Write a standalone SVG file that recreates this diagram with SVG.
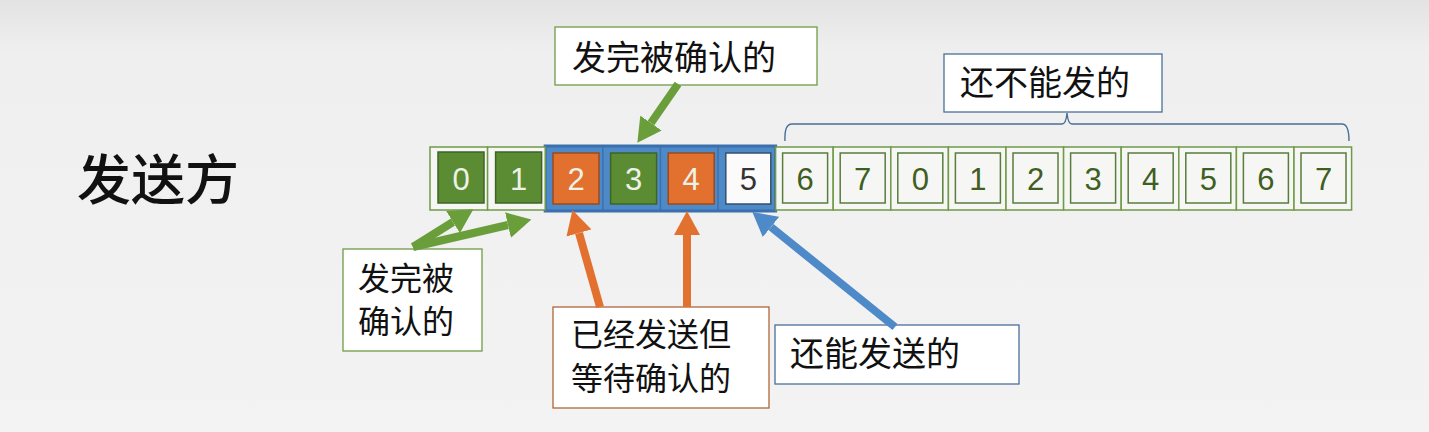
<svg xmlns="http://www.w3.org/2000/svg" width="1429" height="432" viewBox="0 0 1429 432">
<defs>
<linearGradient id="bg" x1="0" y1="0" x2="0" y2="1">
<stop offset="0" stop-color="#e3e3e3"/>
<stop offset="0.12" stop-color="#efefef"/>
<stop offset="1" stop-color="#f3f3f3"/>
</linearGradient>
<marker id="hg" markerUnits="userSpaceOnUse" markerWidth="24" markerHeight="26" refX="0" refY="13" orient="auto"><path d="M0,0 L24,13 L0,26 z" fill="#6a9e3a"/></marker>
<marker id="ho" markerUnits="userSpaceOnUse" markerWidth="24" markerHeight="26" refX="0" refY="13" orient="auto"><path d="M0,0 L24,13 L0,26 z" fill="#e2712f"/></marker>
<marker id="hb" markerUnits="userSpaceOnUse" markerWidth="24" markerHeight="26" refX="0" refY="13" orient="auto"><path d="M0,0 L24,13 L0,26 z" fill="#4f8ac8"/></marker>
<style>
.cjk{font-family:"Noto Sans CJK SC","Liberation Sans",sans-serif;fill:#111;}
.lbl{font-size:34px;}
.lbl2{font-size:32px;}
.lbl3{font-size:32px;}
.num{font-family:"Liberation Sans","DejaVu Sans",sans-serif;font-size:31px;text-anchor:middle;}
.outer{fill:#f6f7f4;stroke:#6f9b48;stroke-width:1.5;}
.inner{fill:#f6f7f4;stroke:#5a7d3c;stroke-width:1.5;}
.ig{fill:#5b8c33;stroke:#3e6424;stroke-width:1.5;}
.io{fill:#e2712f;stroke:#9a4a1c;stroke-width:1.5;}
.iw{fill:#fbfbfb;stroke:#34506e;stroke-width:1.5;}
.tl{fill:#eef2e6;}
.td{fill:#3f5e22;}
.tk{fill:#333;}
.box{fill:#ffffff;stroke-width:1.3;}
.ag{stroke:#6a9e3a;stroke-width:8;fill:none;}
.ao{stroke:#e2712f;stroke-width:8;fill:none;}
.ab{stroke:#4f8ac8;stroke-width:8;fill:none;}
</style>
</defs>
<rect x="0" y="0" width="1429" height="432" fill="url(#bg)"/>

<g id="title"><text class="cjk" x="77" y="200" font-size="54" font-weight="500">发送方</text></g>

<g id="window-blue">
<rect x="545.2" y="146" width="230.4" height="65" fill="#4f8ac8" stroke="#3b6fae" stroke-width="3"/>
<line x1="602.8" y1="147" x2="602.8" y2="210" stroke="#3b6fae" stroke-width="1.5"/>
<line x1="660.4" y1="147" x2="660.4" y2="210" stroke="#3b6fae" stroke-width="1.5"/>
<line x1="718" y1="147" x2="718" y2="210" stroke="#3b6fae" stroke-width="1.5"/>
</g>

<g id="cells">
<g id="c0"><rect class="outer" x="430" y="147" width="57.6" height="63"/><rect class="ig" x="438" y="152" width="46" height="51"/><text class="num tl" x="461" y="190">0</text></g>
<g id="c1"><rect class="outer" x="487.6" y="147" width="57.6" height="63"/><rect class="ig" x="495.6" y="152" width="46" height="51"/><text class="num tl" x="518.6" y="190">1</text></g>
<g id="c2"><rect class="io" x="553" y="153" width="46" height="51"/><text class="num tl" x="576" y="190">2</text></g>
<g id="c3"><rect class="ig" x="610.6" y="153" width="46" height="51"/><text class="num tl" x="633.6" y="190">3</text></g>
<g id="c4"><rect class="io" x="668.2" y="153" width="46" height="51"/><text class="num tl" x="691.2" y="190">4</text></g>
<g id="c5"><rect class="iw" x="725.8" y="153" width="45" height="51"/><text class="num tk" x="748.3" y="190">5</text></g>
<g id="c6"><rect class="outer" x="775.6" y="147" width="57.6" height="63"/><rect class="inner" x="782.6" y="153" width="45" height="50"/><text class="num td" x="805.1" y="190">6</text></g>
<g id="c7"><rect class="outer" x="833.2" y="147" width="57.6" height="63"/><rect class="inner" x="840.2" y="153" width="45" height="50"/><text class="num td" x="862.7" y="190">7</text></g>
<g id="c8"><rect class="outer" x="890.8" y="147" width="57.6" height="63"/><rect class="inner" x="897.8" y="153" width="45" height="50"/><text class="num td" x="920.3" y="190">0</text></g>
<g id="c9"><rect class="outer" x="948.4" y="147" width="57.6" height="63"/><rect class="inner" x="955.4" y="153" width="45" height="50"/><text class="num td" x="977.9" y="190">1</text></g>
<g id="c10"><rect class="outer" x="1006" y="147" width="57.6" height="63"/><rect class="inner" x="1013" y="153" width="45" height="50"/><text class="num td" x="1035.5" y="190">2</text></g>
<g id="c11"><rect class="outer" x="1063.6" y="147" width="57.6" height="63"/><rect class="inner" x="1070.6" y="153" width="45" height="50"/><text class="num td" x="1093.1" y="190">3</text></g>
<g id="c12"><rect class="outer" x="1121.2" y="147" width="57.6" height="63"/><rect class="inner" x="1128.2" y="153" width="45" height="50"/><text class="num td" x="1150.7" y="190">4</text></g>
<g id="c13"><rect class="outer" x="1178.8" y="147" width="57.6" height="63"/><rect class="inner" x="1185.8" y="153" width="45" height="50"/><text class="num td" x="1208.3" y="190">5</text></g>
<g id="c14"><rect class="outer" x="1236.4" y="147" width="57.6" height="63"/><rect class="inner" x="1243.4" y="153" width="45" height="50"/><text class="num td" x="1265.9" y="190">6</text></g>
<g id="c15"><rect class="outer" x="1294" y="147" width="57.6" height="63"/><rect class="inner" x="1301" y="153" width="45" height="50"/><text class="num td" x="1323.5" y="190">7</text></g>
</g>

<g id="brace"><path d="M785,141 Q784,124 792,124 L1062,124 Q1066,124 1067,113 Q1068,124 1072,124 L1342,124 Q1349,124 1349,141" fill="none" stroke="#4a6f98" stroke-width="1.4"/></g>

<g id="box-top-acked"><rect class="box" x="555" y="27" width="262" height="58" stroke="#6f9b48"/><text class="cjk lbl" x="572" y="70">发完被确认的</text></g>
<g id="box-cannot-send"><rect class="box" x="944" y="54" width="218" height="58" stroke="#4a6f98"/><text class="cjk lbl" x="960" y="95">还不能发的</text></g>
<g id="box-left-acked"><rect class="box" x="343" y="249" width="139" height="102" stroke="#6f9b48"/><text class="cjk lbl2" x="358" y="290">发完被</text><text class="cjk lbl2" x="358" y="333">确认的</text></g>
<g id="box-sent-unacked"><rect class="box" x="553" y="307" width="216" height="101" stroke="#b0663a"/><text class="cjk lbl3" x="571" y="346">已经发送但</text><text class="cjk lbl3" x="571" y="390">等待确认的</text></g>
<g id="box-can-send"><rect class="box" x="775" y="325" width="244" height="59" stroke="#4a6f98"/><text class="cjk lbl" x="790" y="366">还能发送的</text></g>

<g id="connectors">
<line class="ag" x1="678" y1="84" x2="651" y2="123" marker-end="url(#hg)"/>
<line class="ag" x1="413" y1="247" x2="453" y2="222" marker-end="url(#hg)"/>
<line class="ag" x1="413" y1="247" x2="508" y2="225" marker-end="url(#hg)"/>
<line class="ao" x1="600" y1="307" x2="579" y2="233" marker-end="url(#ho)"/>
<line class="ao" x1="687" y1="307" x2="687" y2="235" marker-end="url(#ho)"/>
<line class="ab" x1="895" y1="327" x2="771" y2="227" marker-end="url(#hb)"/>
</g>
</svg>
